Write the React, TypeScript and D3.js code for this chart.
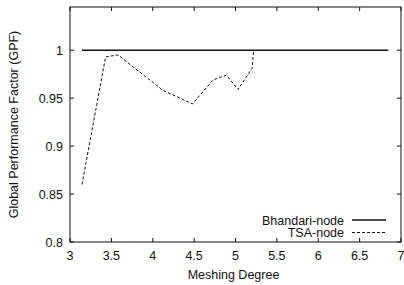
import { useRef, useEffect } from 'react';
import * as d3 from 'd3';

const W = 404;
const H = 285;
const MARGIN = { top: 7, right: 3, bottom: 43, left: 70 };

const xTicks = [3, 3.5, 4, 4.5, 5, 5.5, 6, 6.5, 7];
const yTicks = [0.8, 0.85, 0.9, 0.95, 1];

const bhandariX = [3.145, 6.845];
const bhandariY = [1, 1];

const tsaX = [3.145, 3.43, 3.58, 4.125, 4.48, 4.73, 4.89, 5.03, 5.2, 5.22];
const tsaY = [0.86, 0.993, 0.995, 0.958, 0.944, 0.969, 0.974, 0.959, 0.981, 1.0];

export default function App() {
  const svgRef = useRef<SVGSVGElement>(null);

  useEffect(() => {
    const svg = d3.select(svgRef.current);
    svg.selectAll('*').remove();
    const w = W - MARGIN.left - MARGIN.right;
    const h = H - MARGIN.top - MARGIN.bottom;
    const g = svg.append('g').attr('transform', `translate(${MARGIN.left},${MARGIN.top})`);
    const font = '"Liberation Sans", Arial, sans-serif';
    const fs = '12.5px';

    const x = d3.scaleLinear().domain([3, 7]).range([0, w]);
    const y = d3.scaleLinear().domain([0.8, 1.045]).range([h, 0]);

    // frame
    g.append('rect').attr('width', w).attr('height', h)
      .attr('fill', 'none').attr('stroke', '#111').attr('stroke-width', 1);

    // x ticks (bottom + top, inward)
    xTicks.forEach(t => {
      const px = x(t);
      g.append('line').attr('x1', px).attr('x2', px).attr('y1', h).attr('y2', h - 4)
        .attr('stroke', '#111');
      g.append('line').attr('x1', px).attr('x2', px).attr('y1', 0).attr('y2', 4)
        .attr('stroke', '#111');
      g.append('text').attr('x', px).attr('y', h + 18)
        .attr('text-anchor', 'middle').attr('font-family', font)
        .attr('font-size', fs).attr('fill', '#111').text(String(t));
    });

    // y ticks (left + right, inward)
    yTicks.forEach(t => {
      const py = y(t);
      g.append('line').attr('x1', 0).attr('x2', 4).attr('y1', py).attr('y2', py)
        .attr('stroke', '#111');
      g.append('line').attr('x1', w).attr('x2', w - 4).attr('y1', py).attr('y2', py)
        .attr('stroke', '#111');
      g.append('text').attr('x', -7).attr('y', py + 4.5)
        .attr('text-anchor', 'end').attr('font-family', font)
        .attr('font-size', fs).attr('fill', '#111').text(String(t));
    });

    // axis labels
    g.append('text').attr('x', w / 2 - 2).attr('y', h + 37)
      .attr('text-anchor', 'middle').attr('font-family', font)
      .attr('font-size', fs).attr('fill', '#111').text('Meshing Degree');
    g.append('text').attr('transform', 'rotate(-90)')
      .attr('x', -h / 2).attr('y', -52)
      .attr('text-anchor', 'middle').attr('font-family', font)
      .attr('font-size', fs).attr('fill', '#111').text('Global Performance Factor (GPF)');

    const bhandari = bhandariX.map((v, i) => [v, bhandariY[i]] as [number, number]);
    const tsa = tsaX.map((v, i) => [v, tsaY[i]] as [number, number]);
    const path = d3.line<[number, number]>().x(d => x(d[0])).y(d => y(d[1]));

    g.append('path').attr('d', path(bhandari)).attr('fill', 'none')
      .attr('stroke', '#111').attr('stroke-width', 1.5);
    g.append('path').attr('d', path(tsa)).attr('fill', 'none')
      .attr('stroke', '#111').attr('stroke-width', 1).attr('stroke-dasharray', '3,2');

    // legend
    const legend = [
      { label: 'Bhandari-node', dash: null, sw: 1.5 },
      { label: 'TSA-node', dash: '3,2', sw: 1 },
    ];
    legend.forEach((d, i) => {
      const ly = 220 - MARGIN.top + i * 12.5;
      g.append('text').attr('x', 344 - MARGIN.left).attr('y', ly + 4.5)
        .attr('text-anchor', 'end').attr('font-family', font)
        .attr('font-size', fs).attr('fill', '#111').text(d.label);
      const l = g.append('line').attr('x1', 352 - MARGIN.left).attr('x2', 386 - MARGIN.left)
        .attr('y1', ly).attr('y2', ly).attr('stroke', '#111').attr('stroke-width', d.sw);
      if (d.dash) l.attr('stroke-dasharray', d.dash);
    });
  }, []);

  return (
    <svg ref={svgRef} width={W} height={H}
      style={{ position: 'absolute', left: 0, top: 0, background: '#fff' }} />
  );
}
